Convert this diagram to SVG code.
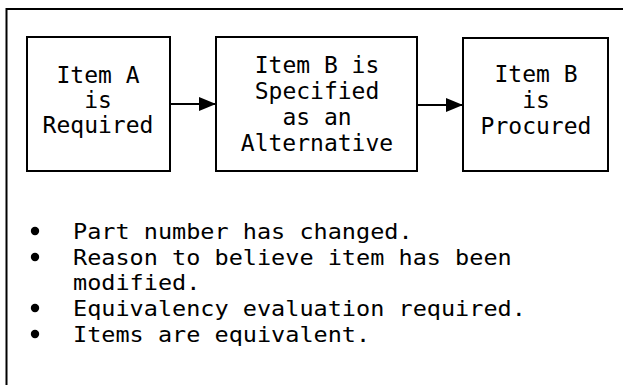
<svg xmlns="http://www.w3.org/2000/svg" width="623" height="385" viewBox="0 0 623 385">
  <defs>
    <style>
      .box { fill: #fff; stroke: #000; stroke-width: 2; }
      .frame { fill: none; stroke: #000; stroke-width: 2; }
      .conn { stroke: #000; stroke-width: 2; fill: none; }
      .lbl { font-family: "DejaVu Sans Mono", "Liberation Mono", monospace; font-size: 23px; fill: #000; text-anchor: middle; }
      .note { font-family: "DejaVu Sans Mono", "Liberation Mono", monospace; font-size: 21px; fill: #000; }
    </style>
    <marker id="arrow" markerWidth="17" markerHeight="14" refX="17" refY="7" orient="auto" markerUnits="userSpaceOnUse">
      <path d="M0,0 L17,7 L0,14 Z" fill="#000"/>
    </marker>
  </defs>

  <rect width="623" height="385" fill="#fff"/>

  <!-- outer frame, open at the right and bottom -->
  <path class="frame" d="M6.5,385 V9 H623"/>

  <g id="item-a-required">
    <rect class="box" x="27" y="37" width="143" height="134"/>
    <text class="lbl" x="98" y="83">Item A</text>
    <text class="lbl" x="98" y="108">is</text>
    <text class="lbl" x="98" y="133">Required</text>
  </g>

  <g id="item-b-specified">
    <rect class="box" x="216" y="37" width="201" height="134"/>
    <text class="lbl" x="317" y="73">Item B is</text>
    <text class="lbl" x="317" y="99">Specified</text>
    <text class="lbl" x="317" y="125">as an</text>
    <text class="lbl" x="317" y="151">Alternative</text>
  </g>

  <g id="item-b-procured">
    <rect class="box" x="463" y="38" width="145" height="133"/>
    <text class="lbl" x="536" y="82">Item B</text>
    <text class="lbl" x="536" y="108">is</text>
    <text class="lbl" x="536" y="134">Procured</text>
  </g>

  <g id="connectors">
    <line class="conn" x1="170" y1="104" x2="216" y2="104" marker-end="url(#arrow)"/>
    <line class="conn" x1="417" y1="105" x2="463" y2="105" marker-end="url(#arrow)"/>
  </g>

  <g id="conditions">
    <circle cx="35" cy="231" r="4.2"/>
    <circle cx="35" cy="257" r="4.2"/>
    <circle cx="35" cy="308" r="4.2"/>
    <circle cx="35" cy="334" r="4.2"/>
    <!-- the list face is a little wider than the box labels -->
    <g transform="translate(73,0) scale(1.12,1)">
      <text class="note" x="0" y="239">Part number has changed.</text>
      <text class="note" x="0" y="265">Reason to believe item has been</text>
      <text class="note" x="0" y="290">modified.</text>
      <text class="note" x="0" y="316">Equivalency evaluation required.</text>
      <text class="note" x="0" y="342">Items are equivalent.</text>
    </g>
  </g>
</svg>
